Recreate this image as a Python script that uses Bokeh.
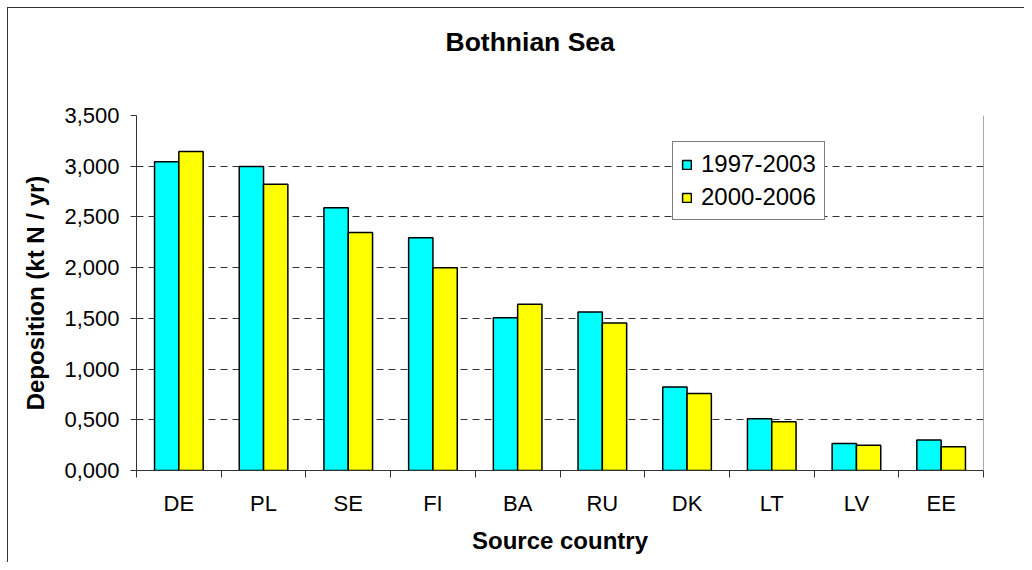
import numpy as np
from bokeh.plotting import figure
from bokeh.models import (FixedTicker, Span, Legend, LegendItem, Range1d, ColumnDataSource, Title)
from bokeh.embed import file_html
from bokeh.resources import INLINE

# ---- data ----
countries = ["DE", "PL", "SE", "FI", "BA", "RU", "DK", "LT", "LV", "EE"]
series_names = ["1997-2003", "2000-2006"]
dep_1997_2003 = [3045, 2996, 2590, 2294, 1506, 1562, 824, 511, 267, 300]
dep_2000_2006 = [3144, 2822, 2346, 2000, 1640, 1453, 758, 481, 250, 234]
y_ticks = [0, 500, 1000, 1500, 2000, 2500, 3000, 3500]
y_tick_labels = ["0,000", "0,500", "1,000", "1,500", "2,000", "2,500", "3,000", "3,500"]
title_text = "Bothnian Sea"
x_title = "Source country"
y_title = "Deposition (kt N / yr)"

FONT = "Liberation Sans"
n = len(countries)
idx = np.arange(n)
centers = idx + 0.5
bw = 0.287

src = ColumnDataSource(dict(
    x1=centers - bw / 2, x2=centers + bw / 2,
    a=dep_1997_2003, b=dep_2000_2006))

p = figure(output_backend="svg", toolbar_location=None,
           frame_width=847, frame_height=355,
           min_border_left=128, min_border_right=41,
           min_border_top=107, min_border_bottom=92,
           x_range=Range1d(0, n), y_range=Range1d(0, 3500),
           background_fill_color="white", border_fill_color="white")
p.styles = {"margin-left": "7px", "margin-top": "7px",
            "border-left": "1px solid #333", "border-top": "1px solid #333"}
p.outline_line_color = None

r1 = p.vbar(x="x1", top="a", width=bw, source=src, fill_color="#00FFFF",
            line_color="black", line_width=1.5)
r2 = p.vbar(x="x2", top="b", width=bw, source=src, fill_color="#FFFF00",
            line_color="black", line_width=1.5)

# spacer panel between frame and title
spacer = Title(text=" ", text_font_size="12px", standoff=28)
p.add_layout(spacer, "above")

# title
p.title.text = title_text
p.title.text_font = FONT
p.title.text_font_size = "26.5px"
p.title.text_font_style = "bold"
p.title.text_color = "black"
p.title.align = "left"
p.title.offset = 309
p.title.standoff = 30

# x axis
xa = p.xaxis[0]
xa.ticker = FixedTicker(ticks=list(centers), minor_ticks=list(np.arange(n + 1)))
xa.major_label_overrides = {float(c): lab for c, lab in zip(centers, countries)}
xa.major_tick_out = 0
xa.major_tick_in = 0
xa.minor_tick_out = 7
xa.minor_tick_in = 0
xa.minor_tick_line_color = "#333"
xa.axis_line_color = "#333"
xa.major_label_text_font = FONT
xa.major_label_text_font_size = "22px"
xa.major_label_text_color = "black"
xa.major_label_standoff = 13
xa.axis_label = x_title
xa.axis_label_text_font = FONT
xa.axis_label_text_font_size = "24px"
xa.axis_label_text_font_style = "bold"
xa.axis_label_text_color = "black"
xa.axis_label_standoff = 8

# y axis
ya = p.yaxis[0]
ya.ticker = FixedTicker(ticks=y_ticks)
ya.major_label_overrides = {t: lab for t, lab in zip(y_ticks, y_tick_labels)}
ya.major_tick_out = 6
ya.major_tick_in = 0
ya.minor_tick_line_color = None
ya.major_tick_line_color = "#333"
ya.axis_line_color = "#333"
ya.major_label_text_font = FONT
ya.major_label_text_font_size = "22px"
ya.major_label_text_color = "black"
ya.major_label_standoff = 11
ya.axis_label = y_title
ya.axis_label_text_font = FONT
ya.axis_label_text_font_size = "24px"
ya.axis_label_text_font_style = "bold"
ya.axis_label_text_color = "black"
ya.axis_label_standoff = 12

p.xgrid.grid_line_color = None
p.ygrid.grid_line_color = "#333"
p.ygrid.grid_line_dash = "7 5"
p.ygrid.grid_line_width = 1

p.add_layout(Span(location=n, dimension="height", line_color="#555", line_width=1))

legend = Legend(items=[LegendItem(label=series_names[0], renderers=[r1]),
                       LegendItem(label=series_names[1], renderers=[r2])],
                location=(536, 250))
legend.label_text_font = FONT
legend.label_text_font_size = "24px"
legend.label_text_color = "black"
legend.glyph_width = 11
legend.glyph_height = 11
legend.label_height = 26
legend.label_standoff = 9
legend.spacing = 5
legend.padding = 8
legend.margin = 0
legend.border_line_color = "black"
legend.border_line_width = 1
legend.background_fill_color = "white"
legend.background_fill_alpha = 1
p.add_layout(legend)

open("out.html", "w").write(file_html(p, INLINE))
